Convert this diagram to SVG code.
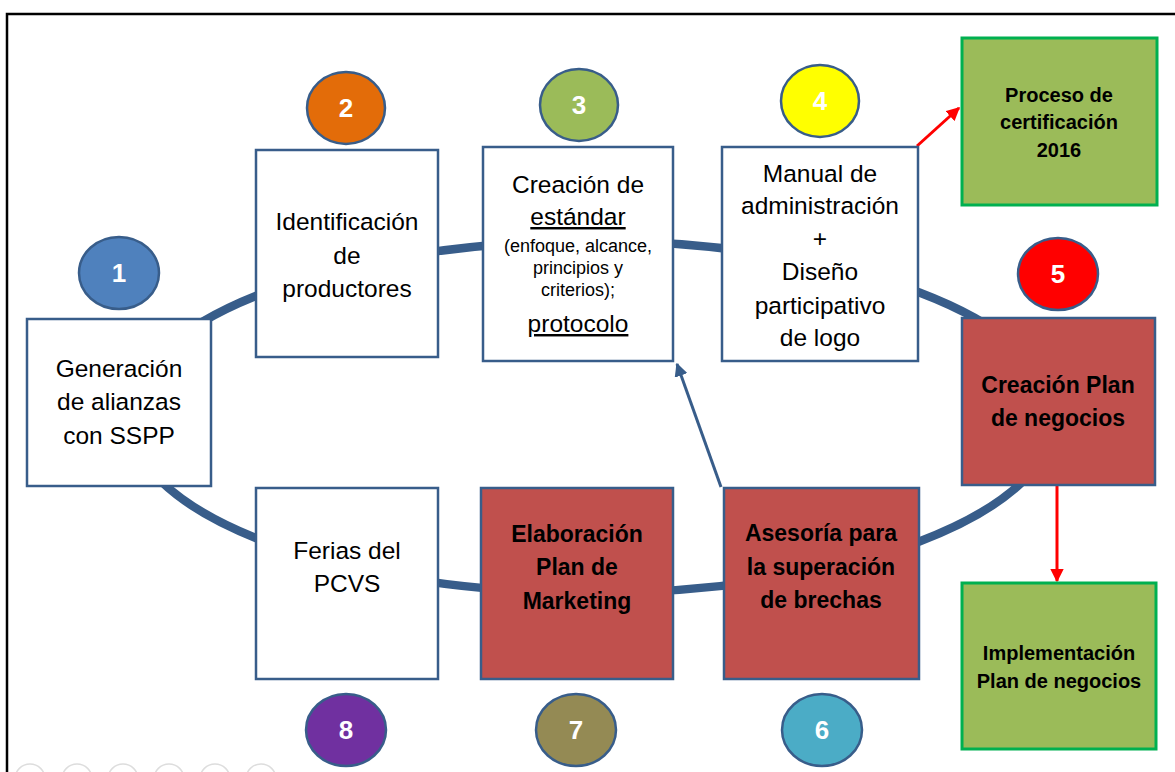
<svg xmlns="http://www.w3.org/2000/svg" width="1175" height="772" viewBox="0 0 1175 772">
<defs>
<style>
.box{stroke:#385D8A;stroke-width:2.5}
.w{fill:#FFFFFF}
.r{fill:#C0504D}
.g{fill:#9BBB59;stroke:#00B050;stroke-width:3}
.num{stroke:#385D8A;stroke-width:2.5}
.t{font-family:"Liberation Sans",Arial,sans-serif;font-size:24.5px;fill:#000;text-anchor:middle}
.tb{font-family:"Liberation Sans",Arial,sans-serif;font-size:23px;font-weight:bold;fill:#000;text-anchor:middle}
.ts{font-family:"Liberation Sans",Arial,sans-serif;font-size:18px;fill:#000;text-anchor:middle}
.tg{font-family:"Liberation Sans",Arial,sans-serif;font-size:20px;font-weight:bold;fill:#000;text-anchor:middle}
.n{font-family:"Liberation Sans",Arial,sans-serif;font-size:26px;font-weight:bold;fill:#FFF;text-anchor:middle}
.ctl{fill:none;stroke:#DDDDDD;stroke-width:1.5}
</style>
<marker id="ah-red" viewBox="0 0 10 10" refX="9" refY="5" markerWidth="4.5" markerHeight="4.5" orient="auto" markerUnits="strokeWidth">
<path d="M0,0 L10,5 L0,10 z" fill="#FF0000"/>
</marker>
<marker id="ah-blue" viewBox="0 0 10 10" refX="9" refY="5" markerWidth="4.5" markerHeight="4.5" orient="auto" markerUnits="strokeWidth">
<path d="M0,0 L10,5 L0,10 z" fill="#385D8A"/>
</marker>
</defs>
<rect x="0" y="0" width="1175" height="772" fill="#FFFFFF"/>
<rect x="7" y="14" width="1220" height="800" fill="none" stroke="#000" stroke-width="2.5"/>
<g id="controls">
<circle class="ctl" cx="30" cy="779" r="15"/>
<circle class="ctl" cx="77" cy="779" r="15"/>
<circle class="ctl" cx="123" cy="779" r="15"/>
<circle class="ctl" cx="169" cy="779" r="15"/>
<circle class="ctl" cx="215" cy="779" r="15"/>
<circle class="ctl" cx="261" cy="779" r="15"/>
</g>
<g id="cycle">
<ellipse cx="592" cy="417" rx="463" ry="176" fill="none" stroke="#385D8A" stroke-width="8.5"/>
</g>
<g id="connectors">
<line x1="917" y1="146" x2="959" y2="108" stroke="#FF0000" stroke-width="3" marker-end="url(#ah-red)"/>
<line x1="1057" y1="486" x2="1057" y2="581" stroke="#FF0000" stroke-width="3" marker-end="url(#ah-red)"/>
<line x1="721" y1="487" x2="677" y2="364" stroke="#385D8A" stroke-width="3" marker-end="url(#ah-blue)"/>
</g>
<g id="node1">
<rect class="box w" x="27" y="319" width="184" height="167"/>
<text class="t" x="119" y="377">Generación</text>
<text class="t" x="119" y="410">de alianzas</text>
<text class="t" x="119" y="444">con SSPP</text>
</g>
<g id="node2">
<rect class="box w" x="256" y="150" width="182" height="207"/>
<text class="t" x="347" y="230">Identificación</text>
<text class="t" x="347" y="264">de</text>
<text class="t" x="347" y="297">productores</text>
</g>
<g id="node3">
<rect class="box w" x="483" y="147" width="190" height="214"/>
<text class="t" x="578" y="193">Creación de</text>
<text class="t" x="578" y="225" text-decoration="underline">estándar</text>
<text class="ts" x="578" y="252">(enfoque, alcance,</text>
<text class="ts" x="578" y="274">principios y</text>
<text class="ts" x="578" y="296">criterios);</text>
<text class="t" x="578" y="332" text-decoration="underline">protocolo</text>
</g>
<g id="node4">
<rect class="box w" x="722" y="147" width="196" height="214"/>
<text class="t" x="820" y="182">Manual de</text>
<text class="t" x="820" y="214">administración</text>
<text class="t" x="820" y="247">+</text>
<text class="t" x="820" y="280">Diseño</text>
<text class="t" x="820" y="314">participativo</text>
<text class="t" x="820" y="346">de logo</text>
</g>
<g id="node5">
<rect class="box r" x="962" y="318" width="193" height="167"/>
<text class="tb" x="1058" y="393">Creación Plan</text>
<text class="tb" x="1058" y="426">de negocios</text>
</g>
<g id="node6">
<rect class="box r" x="724" y="488" width="195" height="191"/>
<text class="tb" x="821" y="541">Asesoría para</text>
<text class="tb" x="821" y="575">la superación</text>
<text class="tb" x="821" y="608">de brechas</text>
</g>
<g id="node7">
<rect class="box r" x="481" y="488" width="192" height="191"/>
<text class="tb" x="577" y="542">Elaboración</text>
<text class="tb" x="577" y="575">Plan de</text>
<text class="tb" x="577" y="609">Marketing</text>
</g>
<g id="node8">
<rect class="box w" x="256" y="488" width="182" height="191"/>
<text class="t" x="347" y="559">Ferias del</text>
<text class="t" x="347" y="592">PCVS</text>
</g>
<g id="cert">
<rect class="g" x="962" y="38" width="195" height="167"/>
<text class="tg" x="1059" y="102">Proceso de</text>
<text class="tg" x="1059" y="129">certificación</text>
<text class="tg" x="1059" y="157">2016</text>
</g>
<g id="impl">
<rect class="g" x="962" y="583" width="194" height="166"/>
<text class="tg" x="1059" y="660">Implementación</text>
<text class="tg" x="1059" y="688">Plan de negocios</text>
</g>
<g id="badge1"><ellipse class="num" cx="119" cy="273" rx="40" ry="36" fill="#4F81BD"/><text class="n" x="119" y="282">1</text></g>
<g id="badge2"><ellipse class="num" cx="346" cy="108" rx="39" ry="36" fill="#E36C09"/><text class="n" x="346" y="117">2</text></g>
<g id="badge3"><ellipse class="num" cx="579" cy="105" rx="39" ry="36" fill="#9BBB59"/><text class="n" x="579" y="114">3</text></g>
<g id="badge4"><ellipse class="num" cx="820" cy="101" rx="39" ry="36" fill="#FFFF00"/><text class="n" x="820" y="110">4</text></g>
<g id="badge5"><ellipse class="num" cx="1058" cy="274" rx="40" ry="36" fill="#FF0000"/><text class="n" x="1058" y="283">5</text></g>
<g id="badge6"><ellipse class="num" cx="822" cy="730" rx="40" ry="36" fill="#4BACC6"/><text class="n" x="822" y="739">6</text></g>
<g id="badge7"><ellipse class="num" cx="576" cy="730" rx="40" ry="36" fill="#948A54"/><text class="n" x="576" y="739">7</text></g>
<g id="badge8"><ellipse class="num" cx="346" cy="730" rx="40" ry="36" fill="#7030A0"/><text class="n" x="346" y="739">8</text></g>
</svg>
